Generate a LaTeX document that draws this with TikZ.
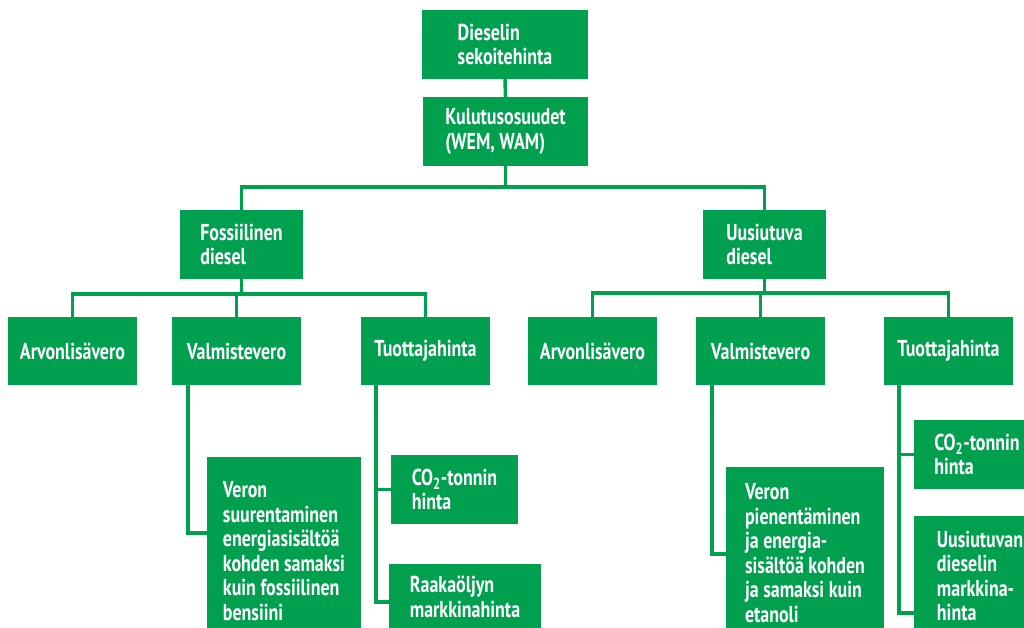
\documentclass[tikz,border=0pt]{standalone}
\usepackage{fontspec}
\newfontfamily\boxfont{PT Sans}[FakeStretch=0.78]
\definecolor{lgreen}{RGB}{0,160,78}
\tikzset{
  box/.style={fill=lgreen,text=white,align=left,inner sep=0pt,
    font=\boxfont\bfseries\fontsize{23}{24.5}\selectfont},
  conn/.style={draw=lgreen,line width=3.5pt}
}

\begin{document}
\begin{tikzpicture}[x=1pt,y=-1pt]
\useasboundingbox (0,0) rectangle (1024,628);
\node[box,minimum width=166,minimum height=69] (diesel) at (505,44.5) {Dieselin\\sekoitehinta};
\node[box,minimum width=165,minimum height=69] (kulutus) at (505.5,131.5) {Kulutusosuudet\\(WEM, WAM)};
\node[box,minimum width=123,minimum height=69] (fossil) at (241.5,244.5) {Fossiilinen\\diesel};
\node[box,minimum width=123,minimum height=69] (uusi) at (764.5,244.5) {Uusiutuva\\diesel};
\foreach \x/\n in {72.5/L, 592.5/R}
  \node[box,minimum width=129,minimum height=68] (arv\n) at (\x,351) {Arvonlisävero};
\foreach \x/\n in {236.5/L, 760.5/R}
  \node[box,minimum width=129,minimum height=68] (valm\n) at (\x,351) {Valmistevero};
\foreach \x/\n in {425.5/L, 948.5/R}
  \node[box,minimum width=129,minimum height=68] (tuot\n) at (\x,351) {Tuottajahinta};
\node[box,minimum width=154,minimum height=188] (veronL) at (284,551) {Veron\\suurentaminen\\energiasisältöä\\kohden samaksi\\kuin fossiilinen\\bensiini};
\node[box,minimum width=127,minimum height=69] (co2L) at (454.5,489.5) {CO\textsubscript{2}-tonnin\\hinta};
\node[box,minimum width=152,minimum height=66] (raakaL) at (465,597) {Raakaöljyn\\markkinahinta};
\node[box,minimum width=158,minimum height=172] (veronR) at (805,553) {Veron\\pienentäminen\\ja energia-\\sisältöä kohden\\ja samaksi kuin\\etanoli};
\node[box,minimum width=126,minimum height=69] (co2R) at (977,454.5) {CO\textsubscript{2}-tonnin\\hinta};
\node[box,minimum width=132,minimum height=120] (uusiR) at (980,576) {Uusiutuvan\\dieselin\\markkina-\\hinta};
\draw[conn] (diesel.south) -- (kulutus.north);
\foreach \n in {fossil,uusi}
  \draw[conn] (kulutus.south) -- ++(0,21) -| (\n.north);
\foreach \n in {arvL,valmL,tuotL}
  \draw[conn] (fossil.south) -- ++(0,15) -| (\n.north);
\foreach \n in {arvR,valmR,tuotR}
  \draw[conn] (uusi.south) -- ++(0,14) -| (\n.north);
\draw[conn] ([xshift=16]valmL.south west) |- ([yshift=18]veronL.west);
\draw[conn] ([xshift=15]tuotL.south west) |- (co2L.west);
\draw[conn] ([xshift=15]tuotL.south west) |- ([yshift=-5]raakaL.west);
\draw[conn] ([xshift=16]valmR.south west) |- ([yshift=-1]veronR.west);
\draw[conn] ([xshift=15]tuotR.south west) |- (co2R.west);
\draw[conn] ([xshift=15]tuotR.south west) |- ([yshift=-37]uusiR.west);
\end{tikzpicture}
\end{document}
